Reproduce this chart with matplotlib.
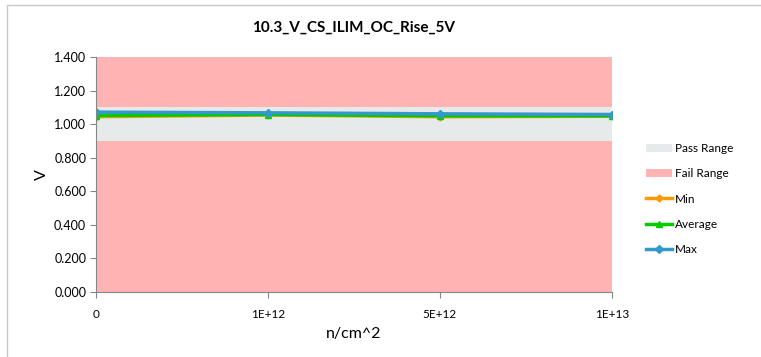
import matplotlib
matplotlib.use("Agg")
from matplotlib import pyplot as plt
from matplotlib.patches import Rectangle
import numpy as np

categories = ["0", "1E+12", "5E+12", "1E+13"]
min_vals = [1.045, 1.055, 1.045, 1.048]
avg_vals = [1.052, 1.058, 1.050, 1.050]
max_vals = [1.072, 1.068, 1.062, 1.058]
pass_low = 0.9
pass_high = 1.1
y_top = 1.4

plt.rcParams['font.family'] = ['Lato', 'DejaVu Sans']

fig = plt.figure(figsize=(7.61, 3.57), dpi=100)
fig.patches.append(Rectangle((0.009, -0.01), 1.0, 0.997, transform=fig.transFigure,
                             fill=False, edgecolor="#c8c8c8", linewidth=1.0))
ax = fig.add_axes([0.126, 0.182, 0.678, 0.658])

x = np.arange(len(categories))
ax.fill_between(x, 0, pass_low, color="#FFB3B3", linewidth=0)
ax.fill_between(x, pass_low, pass_high, color="#E6EAEA", linewidth=0, label="Pass Range")
ax.fill_between(x, pass_high, y_top, color="#FFB3B3", linewidth=0, label="Fail Range")

ax.plot(x, min_vals, color="#FF9900", linewidth=2.5, marker="D", markersize=3.5, label="Min")
ax.plot(x, avg_vals, color="#00CC00", linewidth=2.5, marker="^", markersize=4.5, label="Average")
ax.plot(x, max_vals, color="#3399CC", linewidth=2.5, marker="D", markersize=4, label="Max")

ax.set_xlim(0, len(categories) - 1)
ax.set_ylim(0, y_top)
ax.set_xticks(x)
ax.set_xticklabels(categories, fontsize=8.5)
ax.set_yticks(np.arange(0, 1.41, 0.2))
ax.set_yticklabels([f"{v:.3f}" for v in np.arange(0, 1.41, 0.2)], fontsize=9)
ax.tick_params(axis="both", colors="#868686", labelcolor="black", length=4, width=0.8, pad=8)
ax.tick_params(axis="y", pad=3)
for s in ["top", "right"]:
    ax.spines[s].set_visible(False)
for s in ["left", "bottom"]:
    ax.spines[s].set_color("#868686")

ax.set_xlabel("n/cm^2", fontsize=11.5, labelpad=5)
ax.set_ylabel("V", fontsize=11.5, labelpad=4)
ax.set_title("10.3_V_CS_ILIM_OC_Rise_5V", fontsize=11, fontweight="bold", pad=18)

leg = ax.legend(loc="center left", bbox_to_anchor=(1.045, 0.396), frameon=False, fontsize=8.5,
                handlelength=2.2, labelspacing=1.2, handletextpad=0.3)

fig.savefig("out.png", dpi=100)
